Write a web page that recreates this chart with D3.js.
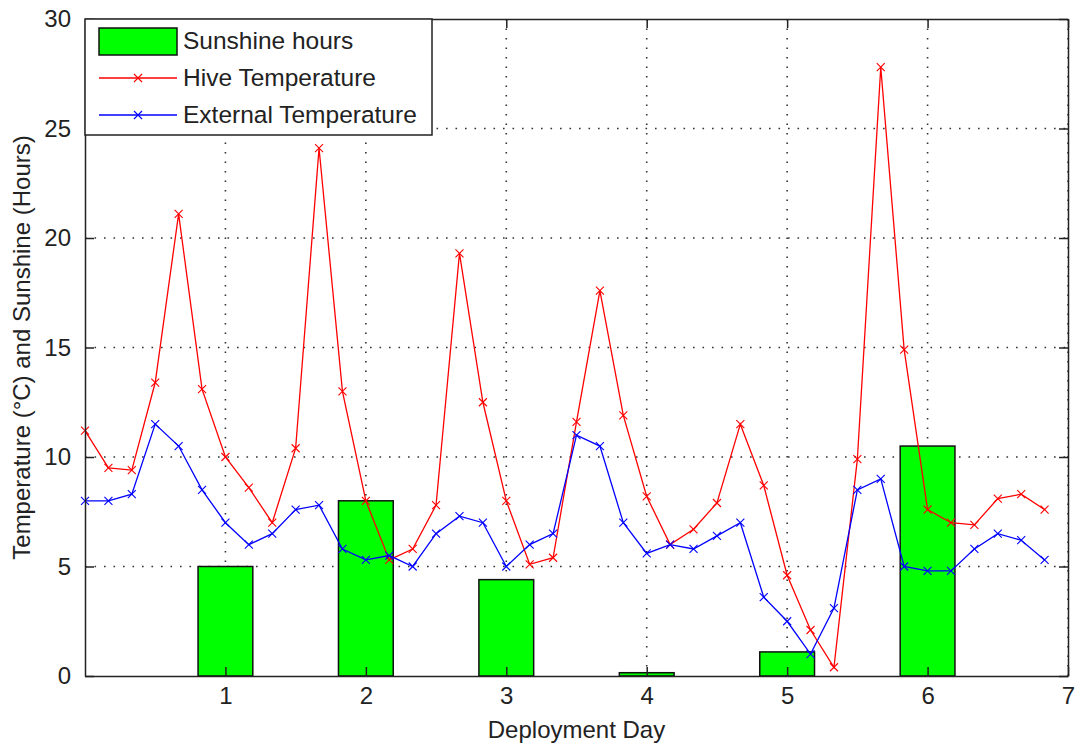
<!DOCTYPE html>
<html>
<head>
<meta charset="utf-8">
<script src="https://cdn.jsdelivr.net/npm/d3@7"></script>
<style>
  body { margin: 0; background: #fff; }
  text { font-family: "Liberation Sans", Arial, sans-serif; fill: #222; }
</style>
</head>
<body>
<script>
// data
var days = [1, 2, 3, 4, 5, 6];
var sunshine = [5.0, 8.0, 4.4, 0.15, 1.1, 10.5];

// readings every 4 hours (1/6 day), starting at day 0
var hive = [11.2, 9.5, 9.4, 13.4, 21.1, 13.1,
            10.0, 8.6, 7.0, 10.4, 24.1, 13.0,
            8.0, 5.3, 5.8, 7.8, 19.3, 12.5,
            8.0, 5.1, 5.4, 11.6, 17.6, 11.9,
            8.2, 6.0, 6.7, 7.9, 11.5, 8.7,
            4.6, 2.1, 0.4, 9.9, 27.8, 14.9,
            7.6, 7.0, 6.9, 8.1, 8.3, 7.6];
var external = [8.0, 8.0, 8.3, 11.5, 10.5, 8.5,
                7.0, 6.0, 6.5, 7.6, 7.8, 5.8,
                5.3, 5.5, 5.0, 6.5, 7.3, 7.0,
                5.0, 6.0, 6.5, 11.0, 10.5, 7.0,
                5.6, 6.0, 5.8, 6.4, 7.0, 3.6,
                2.5, 1.0, 3.1, 8.5, 9.0, 5.0,
                4.8, 4.8, 5.8, 6.5, 6.2, 5.3];
var xTicks = [1, 2, 3, 4, 5, 6, 7];
var yTicks = [0, 5, 10, 15, 20, 25, 30];

var W = 1076, H = 746;
var margin = { left: 85, top: 19, right: 8, bottom: 70 };
var width = W - margin.left - margin.right;
var height = H - margin.top - margin.bottom;

var svg = d3.select("body").append("svg")
    .attr("width", W).attr("height", H);
var g = svg.append("g")
    .attr("transform", "translate(" + margin.left + "," + margin.top + ")");

var x = d3.scaleLinear().domain([0, 7]).range([0, width]);
var y = d3.scaleLinear().domain([0, 30]).range([height, 0]);

// dotted grid
g.append("g").selectAll("line").data(xTicks).join("line")
    .attr("x1", d => x(d)).attr("x2", d => x(d))
    .attr("y1", 0).attr("y2", height)
    .attr("stroke", "#333").attr("stroke-width", 1.6)
    .attr("stroke-dasharray", "1.6,7.9");
g.append("g").selectAll("line").data(yTicks.slice(1, -1)).join("line")
    .attr("x1", 0).attr("x2", width)
    .attr("y1", d => y(d)).attr("y2", d => y(d))
    .attr("stroke", "#333").attr("stroke-width", 1.6)
    .attr("stroke-dasharray", "1.6,7.9");

// bars
var barW = 0.39;
g.append("g").selectAll("rect").data(days).join("rect")
    .attr("x", (d, i) => x(d - barW / 2))
    .attr("width", x(barW) - x(0))
    .attr("y", (d, i) => y(sunshine[i]))
    .attr("height", (d, i) => y(0) - y(sunshine[i]))
    .attr("fill", "#00ff00").attr("stroke", "#111").attr("stroke-width", 1.5);

// lines with x markers
function series(vals, color) {
  var pts = vals.map((v, i) => [i / 6, v]);
  g.append("path").datum(pts)
      .attr("fill", "none").attr("stroke", color).attr("stroke-width", 1.3)
      .attr("d", d3.line().x(d => x(d[0])).y(d => y(d[1])));
  g.append("g").selectAll("path").data(pts).join("path")
      .attr("transform", d => "translate(" + x(d[0]) + "," + y(d[1]) + ")")
      .attr("d", "M-4,-4L4,4M-4,4L4,-4")
      .attr("stroke", color).attr("stroke-width", 1.1).attr("fill", "none");
}
series(hive, "#ff0000");
series(external, "#0000ff");

// axes (box with inward ticks)
var fs = "24px";
var axBottom = g.append("g").attr("transform", "translate(0," + height + ")")
    .call(d3.axisBottom(x).tickValues(xTicks).tickFormat(d3.format("d"))
      .tickSizeInner(-9).tickSizeOuter(0).tickPadding(11));
var axLeft = g.append("g")
    .call(d3.axisLeft(y).tickValues(yTicks).tickFormat(d3.format("d"))
      .tickSizeInner(-9).tickSizeOuter(0).tickPadding(14));
var axTop = g.append("g")
    .call(d3.axisTop(x).tickValues(xTicks).tickSizeInner(-9).tickSizeOuter(0).tickFormat(""));
var axRight = g.append("g").attr("transform", "translate(" + width + ",0)")
    .call(d3.axisRight(y).tickValues(yTicks).tickSizeInner(-9).tickSizeOuter(0).tickFormat(""));
[axBottom, axLeft, axTop, axRight].forEach(function (a) {
  a.select(".domain").attr("stroke", "#222").attr("stroke-width", 1.5);
  a.selectAll(".tick line").attr("stroke", "#222").attr("stroke-width", 1.5);
  a.selectAll(".tick text").style("font-size", fs).attr("fill", "#222");
});

// axis titles
svg.append("text")
    .attr("x", margin.left + width / 2).attr("y", 738)
    .attr("text-anchor", "middle").style("font-size", "24px")
    .text("Deployment Day");
svg.append("text")
    .attr("transform", "translate(30," + (margin.top + height / 2) + ") rotate(-90)")
    .attr("text-anchor", "middle").style("font-size", "24px")
    .text("Temperature (°C) and Sunshine (Hours)");

// legend
var lg = g.append("g");
lg.append("rect").attr("x", 0).attr("y", 0).attr("width", 347).attr("height", 116)
    .attr("fill", "#fff").attr("stroke", "#222").attr("stroke-width", 1.5);
var items = [
  { name: "Sunshine hours", type: "bar", color: "#00ff00" },
  { name: "Hive Temperature", type: "line", color: "#ff0000" },
  { name: "External Temperature", type: "line", color: "#0000ff" }
];
items.forEach(function (it, i) {
  var cy = 22 + i * 37;
  if (it.type === "bar") {
    lg.append("rect").attr("x", 14).attr("y", cy - 13).attr("width", 78).attr("height", 27)
        .attr("fill", it.color).attr("stroke", "#111").attr("stroke-width", 1.5);
  } else {
    lg.append("line").attr("x1", 14).attr("x2", 92).attr("y1", cy).attr("y2", cy)
        .attr("stroke", it.color).attr("stroke-width", 1.3);
    lg.append("path").attr("transform", "translate(53," + cy + ")")
        .attr("d", "M-4,-4L4,4M-4,4L4,-4")
        .attr("stroke", it.color).attr("stroke-width", 1.1);
  }
  lg.append("text").attr("x", 98).attr("y", cy + 8).style("font-size", "24.5px")
      .text(it.name);
});
</script>
</body>
</html>
